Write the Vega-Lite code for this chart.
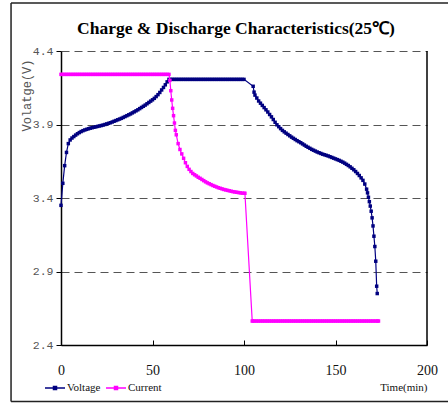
{
"$schema": "https://vega.github.io/schema/vega-lite/v6.json",
"width": 366, "height": 294, "autosize": "none",
"padding": {"left": 61, "top": 51, "right": 21, "bottom": 60},
"background": "white",
"title": {"text": "Charge & Discharge Characteristics(25℃)", "font": "Liberation Serif", "fontSize": 17.5, "fontWeight": "bold", "color": "black", "offset": 0, "dy": 49, "baseline": "alphabetic", "dx": -8, "anchor": "middle", "frame": "group"},
"config": {"view": {"stroke": null}},
"datasets": {
"voltage": [
{"t":0,"v":3.35},{"t":1,"v":3.50},{"t":2,"v":3.62},{"t":3,"v":3.71},{"t":4,"v":3.77},{"t":5,"v":3.795},{"t":6,"v":3.808},{"t":7,"v":3.818},{"t":8,"v":3.828},{"t":9,"v":3.837},
{"t":10,"v":3.845},{"t":11,"v":3.852},{"t":12,"v":3.858},{"t":13,"v":3.863},{"t":14,"v":3.867},{"t":15,"v":3.871},{"t":16,"v":3.875},{"t":17,"v":3.878},{"t":18,"v":3.881},{"t":19,"v":3.884},
{"t":20,"v":3.887},{"t":21,"v":3.890},{"t":22,"v":3.893},{"t":23,"v":3.896},{"t":24,"v":3.900},{"t":25,"v":3.904},{"t":26,"v":3.908},{"t":27,"v":3.912},{"t":28,"v":3.917},{"t":29,"v":3.922},
{"t":30,"v":3.927},{"t":31,"v":3.932},{"t":32,"v":3.937},{"t":33,"v":3.942},{"t":34,"v":3.948},{"t":35,"v":3.954},{"t":36,"v":3.960},{"t":37,"v":3.966},{"t":38,"v":3.972},{"t":39,"v":3.979},
{"t":40,"v":3.986},{"t":41,"v":3.993},{"t":42,"v":4.000},{"t":43,"v":4.008},{"t":44,"v":4.016},{"t":45,"v":4.024},{"t":46,"v":4.032},{"t":47,"v":4.041},{"t":48,"v":4.050},{"t":49,"v":4.059},
{"t":50,"v":4.068},{"t":51,"v":4.078},{"t":52,"v":4.090},{"t":53,"v":4.103},{"t":54,"v":4.118},{"t":55,"v":4.135},{"t":56,"v":4.152},{"t":57,"v":4.170},{"t":58,"v":4.190},{"t":59,"v":4.207},
{"t":60,"v":4.207},{"t":61,"v":4.207},{"t":62,"v":4.207},{"t":63,"v":4.207},{"t":64,"v":4.207},{"t":65,"v":4.207},{"t":66,"v":4.207},{"t":67,"v":4.207},{"t":68,"v":4.207},{"t":69,"v":4.207},
{"t":70,"v":4.207},{"t":71,"v":4.207},{"t":72,"v":4.207},{"t":73,"v":4.207},{"t":74,"v":4.207},{"t":75,"v":4.207},{"t":76,"v":4.207},{"t":77,"v":4.207},{"t":78,"v":4.207},{"t":79,"v":4.207},
{"t":80,"v":4.207},{"t":81,"v":4.207},{"t":82,"v":4.207},{"t":83,"v":4.207},{"t":84,"v":4.207},{"t":85,"v":4.207},{"t":86,"v":4.207},{"t":87,"v":4.207},{"t":88,"v":4.207},{"t":89,"v":4.207},
{"t":90,"v":4.207},{"t":91,"v":4.207},{"t":92,"v":4.207},{"t":93,"v":4.207},{"t":94,"v":4.207},{"t":95,"v":4.207},{"t":96,"v":4.207},{"t":97,"v":4.207},{"t":98,"v":4.207},{"t":99,"v":4.207},
{"t":100,"v":4.207},
{"t":105,"v":4.16},{"t":105.5,"v":4.12},{"t":106,"v":4.10},{"t":107,"v":4.08},{"t":108,"v":4.06},{"t":109,"v":4.045},
{"t":110,"v":4.03},{"t":111,"v":4.015},{"t":112,"v":4.00},{"t":113,"v":3.985},{"t":114,"v":3.968},{"t":115,"v":3.952},{"t":116,"v":3.934},{"t":117,"v":3.915},{"t":118,"v":3.898},{"t":119,"v":3.885},
{"t":120,"v":3.872},{"t":121,"v":3.86},{"t":122,"v":3.85},{"t":123,"v":3.841},{"t":124,"v":3.832},{"t":125,"v":3.823},{"t":126,"v":3.814},{"t":127,"v":3.806},{"t":128,"v":3.798},{"t":129,"v":3.79},
{"t":130,"v":3.783},{"t":131,"v":3.776},{"t":132,"v":3.768},{"t":133,"v":3.76},{"t":134,"v":3.752},{"t":135,"v":3.745},{"t":136,"v":3.738},{"t":137,"v":3.731},{"t":138,"v":3.725},{"t":139,"v":3.719},
{"t":140,"v":3.713},{"t":141,"v":3.708},{"t":142,"v":3.703},{"t":143,"v":3.698},{"t":144,"v":3.694},{"t":145,"v":3.69},{"t":146,"v":3.686},{"t":147,"v":3.681},{"t":148,"v":3.676},{"t":149,"v":3.671},
{"t":150,"v":3.666},{"t":151,"v":3.661},{"t":152,"v":3.656},{"t":153,"v":3.650},{"t":154,"v":3.644},{"t":155,"v":3.637},{"t":156,"v":3.629},{"t":157,"v":3.621},{"t":158,"v":3.612},{"t":159,"v":3.602},
{"t":160,"v":3.592},{"t":161,"v":3.58},{"t":162,"v":3.567},{"t":163,"v":3.553},{"t":164,"v":3.537},{"t":165,"v":3.52},{"t":166,"v":3.495},{"t":167,"v":3.46},{"t":167.5,"v":3.435},{"t":168,"v":3.405},
{"t":168.5,"v":3.375},{"t":169,"v":3.345},{"t":169.5,"v":3.31},{"t":170,"v":3.265},{"t":170.5,"v":3.21},{"t":171,"v":3.14},{"t":171.5,"v":3.07},{"t":172,"v":2.97},{"t":172.5,"v":2.80},{"t":172.8,"v":2.75}
],
"current": [
{"t":0,"v":4.241},{"t":1,"v":4.241},{"t":2,"v":4.241},{"t":3,"v":4.241},{"t":4,"v":4.241},{"t":5,"v":4.241},{"t":6,"v":4.241},{"t":7,"v":4.241},{"t":8,"v":4.241},{"t":9,"v":4.241},
{"t":10,"v":4.241},{"t":11,"v":4.241},{"t":12,"v":4.241},{"t":13,"v":4.241},{"t":14,"v":4.241},{"t":15,"v":4.241},{"t":16,"v":4.241},{"t":17,"v":4.241},{"t":18,"v":4.241},{"t":19,"v":4.241},
{"t":20,"v":4.241},{"t":21,"v":4.241},{"t":22,"v":4.241},{"t":23,"v":4.241},{"t":24,"v":4.241},{"t":25,"v":4.241},{"t":26,"v":4.241},{"t":27,"v":4.241},{"t":28,"v":4.241},{"t":29,"v":4.241},
{"t":30,"v":4.241},{"t":31,"v":4.241},{"t":32,"v":4.241},{"t":33,"v":4.241},{"t":34,"v":4.241},{"t":35,"v":4.241},{"t":36,"v":4.241},{"t":37,"v":4.241},{"t":38,"v":4.241},{"t":39,"v":4.241},
{"t":40,"v":4.241},{"t":41,"v":4.241},{"t":42,"v":4.241},{"t":43,"v":4.241},{"t":44,"v":4.241},{"t":45,"v":4.241},{"t":46,"v":4.241},{"t":47,"v":4.241},{"t":48,"v":4.241},{"t":49,"v":4.241},
{"t":50,"v":4.241},{"t":51,"v":4.241},{"t":52,"v":4.241},{"t":53,"v":4.241},{"t":54,"v":4.241},{"t":55,"v":4.241},{"t":56,"v":4.241},{"t":57,"v":4.241},{"t":58,"v":4.241},{"t":59,"v":4.241},
{"t":59.5,"v":4.20},{"t":60,"v":4.13},{"t":60.5,"v":4.067},{"t":61,"v":4.01},{"t":61.5,"v":3.96},{"t":62,"v":3.91},{"t":62.5,"v":3.86},{"t":63,"v":3.83},{"t":64,"v":3.77},{"t":65,"v":3.73},
{"t":66,"v":3.70},{"t":67,"v":3.67},{"t":68,"v":3.64},{"t":69,"v":3.615},{"t":70,"v":3.595},{"t":71,"v":3.58},{"t":72,"v":3.567},{"t":73,"v":3.558},{"t":74,"v":3.55},{"t":75,"v":3.541},
{"t":76,"v":3.534},{"t":77,"v":3.526},{"t":78,"v":3.518},{"t":79,"v":3.51},{"t":80,"v":3.503},{"t":81,"v":3.497},{"t":82,"v":3.491},{"t":83,"v":3.485},{"t":84,"v":3.48},{"t":85,"v":3.475},
{"t":86,"v":3.47},{"t":87,"v":3.466},{"t":88,"v":3.462},{"t":89,"v":3.458},{"t":90,"v":3.455},{"t":91,"v":3.452},{"t":92,"v":3.449},{"t":93,"v":3.446},{"t":94,"v":3.443},{"t":95,"v":3.441},
{"t":96,"v":3.439},{"t":97,"v":3.437},{"t":98,"v":3.435},{"t":99,"v":3.433},{"t":100,"v":3.432},{"t":100.5,"v":3.432},
{"t":104.5,"v":2.563},{"t":105,"v":2.563},{"t":106,"v":2.563},{"t":107,"v":2.563},{"t":108,"v":2.563},{"t":109,"v":2.563},
{"t":110,"v":2.563},{"t":111,"v":2.563},{"t":112,"v":2.563},{"t":113,"v":2.563},{"t":114,"v":2.563},{"t":115,"v":2.563},{"t":116,"v":2.563},{"t":117,"v":2.563},{"t":118,"v":2.563},{"t":119,"v":2.563},
{"t":120,"v":2.563},{"t":121,"v":2.563},{"t":122,"v":2.563},{"t":123,"v":2.563},{"t":124,"v":2.563},{"t":125,"v":2.563},{"t":126,"v":2.563},{"t":127,"v":2.563},{"t":128,"v":2.563},{"t":129,"v":2.563},
{"t":130,"v":2.563},{"t":131,"v":2.563},{"t":132,"v":2.563},{"t":133,"v":2.563},{"t":134,"v":2.563},{"t":135,"v":2.563},{"t":136,"v":2.563},{"t":137,"v":2.563},{"t":138,"v":2.563},{"t":139,"v":2.563},
{"t":140,"v":2.563},{"t":141,"v":2.563},{"t":142,"v":2.563},{"t":143,"v":2.563},{"t":144,"v":2.563},{"t":145,"v":2.563},{"t":146,"v":2.563},{"t":147,"v":2.563},{"t":148,"v":2.563},{"t":149,"v":2.563},
{"t":150,"v":2.563},{"t":151,"v":2.563},{"t":152,"v":2.563},{"t":153,"v":2.563},{"t":154,"v":2.563},{"t":155,"v":2.563},{"t":156,"v":2.563},{"t":157,"v":2.563},{"t":158,"v":2.563},{"t":159,"v":2.563},
{"t":160,"v":2.563},{"t":161,"v":2.563},{"t":162,"v":2.563},{"t":163,"v":2.563},{"t":164,"v":2.563},{"t":165,"v":2.563},{"t":166,"v":2.563},{"t":167,"v":2.563},{"t":168,"v":2.563},{"t":169,"v":2.563},
{"t":170,"v":2.563},{"t":171,"v":2.563},{"t":172,"v":2.563},{"t":173,"v":2.563},{"t":173.5,"v":2.563}
]
},
"layer": [
{
"data": {"name": "voltage"},
"mark": {"type": "line", "strokeWidth": 1.2, "point": {"shape": "square", "filled": true, "size": 12}},
"encoding": {
"x": {"field": "t", "type": "quantitative", "title": "Time(min)",
  "scale": {"domain": [0, 200]},
  "axis": {"values": [0, 50, 100, 150, 200], "grid": false, "domainColor": "black", "domainWidth": 1.5, "tickColor": "black", "tickSize": -5,
    "labelFont": "Liberation Serif", "labelFontSize": 14, "labelColor": "#111", "labelPadding": 23, "labelFlush": false,
    "titleFont": "Liberation Serif", "titleFontSize": 11, "titleFontWeight": "normal", "titleColor": "#111",
    "titleAnchor": "end", "titleAlign": "right", "titleX": 366, "titleY": 36}},
"y": {"field": "v", "type": "quantitative", "title": "Volatge(V)",
  "scale": {"domain": [2.4, 4.4]},
  "axis": {"values": [2.4, 2.9, 3.4, 3.9, 4.4], "format": ".1f", "grid": true, "gridDash": [8, 5], "gridColor": "#555", "gridWidth": 1,
    "domainColor": "black", "domainWidth": 1.5, "tickColor": "black", "tickSize": 5, "labelFlush": false,
    "labelFont": "Liberation Mono", "labelFontSize": 11.5, "labelColor": "#555", "labelPadding": 3,
    "titleFont": "Liberation Mono", "titleFontSize": 12, "titleFontWeight": "normal", "titleColor": "#555",
    "titleAngle": -90, "titleX": -35, "titleY": 44, "titleAlign": "center", "titleBaseline": "middle"}},
"color": {"datum": "Voltage", "type": "nominal",
  "scale": {"domain": ["Voltage", "Current"], "range": ["#000080", "#FF00FF"]},
  "legend": {"orient": "none", "legendX": -17, "legendY": 326, "direction": "horizontal", "title": null,
    "symbolType": "M-1,0H1M-0.15,-0.15H0.15V0.15H-0.15Z", "symbolSize": 400, "symbolStrokeWidth": 1.5,
    "labelFont": "Liberation Serif", "labelFontSize": 11, "labelColor": "#111", "labelOffset": 1, "columnPadding": 2}}
}
},
{
"data": {"name": "current"},
"mark": {"type": "line", "strokeWidth": 1.2, "point": {"shape": "square", "filled": true, "size": 12}},
"encoding": {
"x": {"field": "t", "type": "quantitative"},
"y": {"field": "v", "type": "quantitative"},
"color": {"datum": "Current", "type": "nominal"}
}
},
{
"data": {"values": [{}]},
"mark": {"type": "rule", "color": "black", "strokeWidth": 1.5},
"encoding": {"x": {"datum": 200}}
},
{
"data": {"values": [{}]},
"mark": {"type": "rule", "color": "#222", "strokeWidth": 1.5},
"encoding": {"x": {"datum": -27.3}, "x2": {"datum": 211.5}, "y": {"datum": 4.727}}
},
{
"data": {"values": [{}]},
"mark": {"type": "rule", "color": "#222", "strokeWidth": 1.5},
"encoding": {"x": {"datum": -27.3}, "x2": {"datum": 211.5}, "y": {"datum": 2.015}}
},
{
"data": {"values": [{}]},
"mark": {"type": "rule", "color": "#222", "strokeWidth": 1.5},
"encoding": {"x": {"datum": -27.3}, "y": {"datum": 4.727}, "y2": {"datum": 2.015}}
}
]
}
